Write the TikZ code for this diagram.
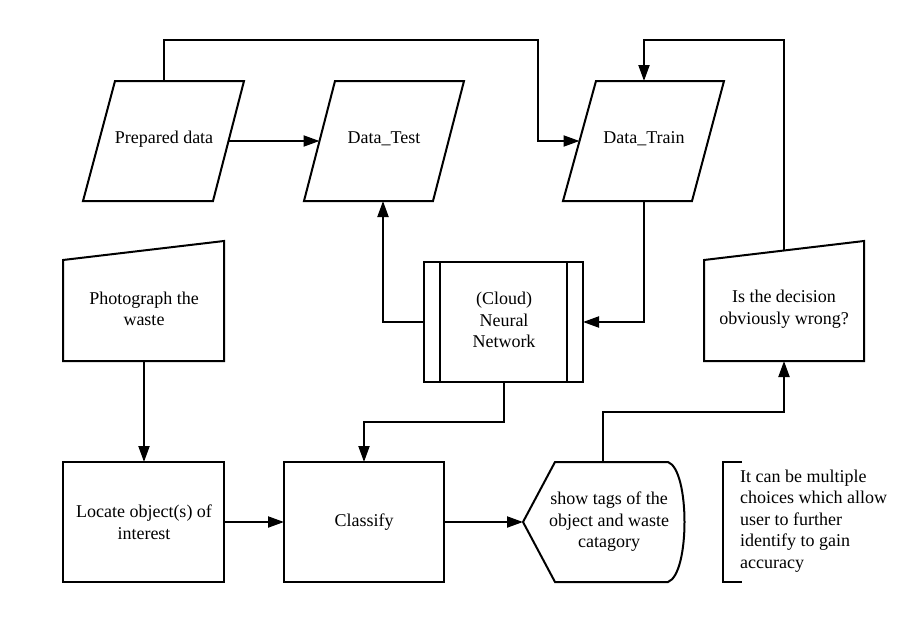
\documentclass[tikz,border=0pt]{standalone}
\usepackage{fontspec}
\setmainfont{Liberation Serif}
\usetikzlibrary{arrows.meta}
\begin{document}
\begin{tikzpicture}[x=1pt,y=-1pt,
  shp/.style={draw=black,line width=2pt,line join=miter},
  conn/.style={draw=black,line width=2pt},
  arr/.style={conn,-{Triangle[length=16pt,width=11pt]}},
  txt/.style={inner sep=0pt,align=center,font=\fontsize{18}{21.5}\selectfont},
  note/.style={inner sep=0pt,align=left,font=\fontsize{18}{21.5}\selectfont,anchor=west}]
\useasboundingbox (0,0) rectangle (915,621);
\fill[white] (0,0) rectangle (915,621);
% shapes
\draw[shp] (115,81) -- (244,81) -- (213,201) -- (83,201) -- cycle;
\draw[shp] (335,81) -- (464,81) -- (433,201) -- (304,201) -- cycle;
\draw[shp] (596,81) -- (724,81) -- (692,201) -- (563,201) -- cycle;
\draw[shp] (63,260) -- (224,241) -- (224,361) -- (63,361) -- cycle;
\draw[shp] (704,260) -- (864,241) -- (864,361) -- (704,361) -- cycle;
\draw[shp] (424,262) rectangle (583,382);
\draw[shp] (440,262) -- (440,382) (567,262) -- (567,382);
\draw[shp] (63,462) rectangle (224,582);
\draw[shp] (284,462) rectangle (444,582);
\draw[shp] (523,522) -- (555,462) -- (668,462) .. controls (690,470) and (690,574) .. (668,582) -- (555,582) -- cycle;
\draw[shp] (742,462) -- (723,462) -- (723,582) -- (742,582);
% texts
\node[txt] (pd) at (164,139) {Prepared data};
\node[txt] (dt) at (384,139) {Data\_Test};
\node[txt] (dtr) at (644,139) {Data\_Train};
\node[txt] (ph) at (144,309) {Photograph the\\waste};
\node[txt] (dec) at (784,309) {Is the decision\\obviously wrong?};
\node[txt] (nn) at (504,320) {(Cloud)\\Neural\\Network};
\node[txt] (loc) at (144,522) {Locate object(s) of\\interest};
\node[txt] (cls) at (364,522) {Classify};
\node[txt] (dsp) at (609,522) {show tags of the\\object and waste\\catagory};
\node[note] (ann) at (740,521) {It can be multiple\\choices which allow\\user to further\\identify to gain\\accuracy};
% anchor coordinates
\coordinate (pdR) at (228.5,141);
\coordinate (pdT) at (164,81);
\coordinate (dtL) at (319.5,141);
\coordinate (dtB) at (383,201);
\coordinate (dtrL) at (579.5,141);
\coordinate (dtrT) at (644,81);
\coordinate (dtrB) at (644,201);
\coordinate (phB) at (144,361);
\coordinate (locT) at (144,462);
\coordinate (locR) at (224,522);
\coordinate (clsL) at (284,522);
\coordinate (clsR) at (444,522);
\coordinate (clsT) at (364,462);
\coordinate (dspL) at (523,522);
\coordinate (dspT) at (603,462);
\coordinate (nnL) at (424,322);
\coordinate (nnR) at (583,322);
\coordinate (nnB) at (504,382);
\coordinate (decB) at (784,361);
\coordinate (decT) at (784,250.5);
% connectors
\draw[arr] (pdR) -- (dtL);
\draw[arr] (pdT) -- (164,40) -- (538,40) -- (538,141) -- (dtrL);
\draw[arr] (phB) -- (locT);
\draw[arr] (locR) -- (clsL);
\draw[arr] (clsR) -- (dspL);
\draw[arr] (nnL) -- (383,322) -- (dtB);
\draw[arr] (dtrB) -- (644,322) -- (nnR);
\draw[arr] (nnB) -- (504,422) -- (364,422) -- (clsT);
\draw[arr] (dspT) -- (603,412) -- (784,412) -- (decB);
\draw[arr] (decT) -- (784,40) -- (644,40) -- (dtrT);
\end{tikzpicture}
\end{document}
